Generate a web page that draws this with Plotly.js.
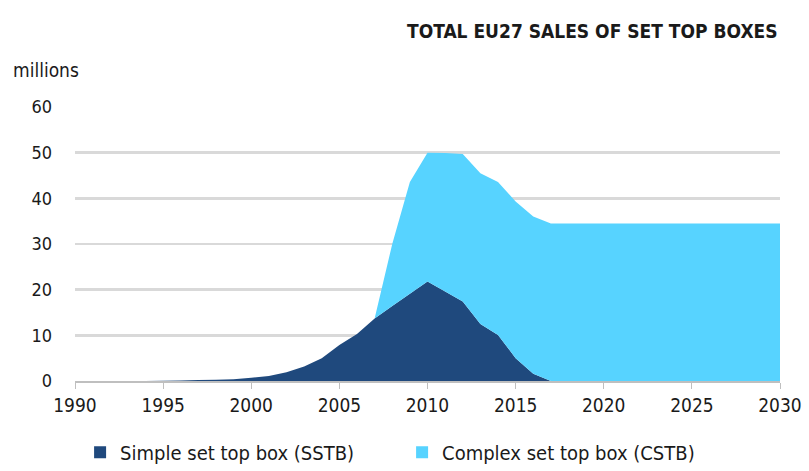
<!DOCTYPE html>
<html>
<head>
<meta charset="utf-8">
<script src="https://cdn.plot.ly/plotly-3.0.1.min.js"></script>
<style>html,body{margin:0;padding:0;background:#fff;}#chart{width:809px;height:471px;}</style>
</head>
<body>
<div id="chart"></div>
<script>
const years = [1990,1991,1992,1993,1994,1995,1996,1997,1998,1999,2000,2001,2002,2003,2004,2005,2006,2007,2008,2009,2010,2011,2012,2013,2014,2015,2016,2017,2018,2019,2020,2021,2022,2023,2024,2025,2026,2027,2028,2029,2030];
const sstb = [0,0,0,0,0,0.05,0.1,0.2,0.3,0.4,0.7,1.1,1.9,3.2,5.0,7.9,10.3,13.7,16.4,19.1,21.8,19.6,17.4,12.5,10.1,5.0,1.6,0,0,0,0,0,0,0,0,0,0,0,0,0,0];
const cstb = [0,0,0,0,0,0,0,0,0,0,0,0,0,0,0,0,0,0,13.6,24.5,28.2,30.3,32.3,33.0,33.5,34.3,34.4,34.5,34.5,34.5,34.5,34.5,34.5,34.5,34.5,34.5,34.5,34.5,34.5,34.5,34.5];
const seriesNames = ["Simple set top box (SSTB)", "Complex set top box (CSTB)"];
const seriesColors = ['#1f497d', '#57d3ff'];
const chartTitle = "TOTAL EU27 SALES OF SET TOP BOXES";
const yUnit = "millions";

const FONT = "'DejaVu Sans Condensed', 'DejaVu Sans', sans-serif";
const traces = [
  {x: years, y: sstb, name: seriesNames[0], type: 'scatter', mode: 'none', stackgroup: 'one', fill: 'tonexty', fillcolor: seriesColors[0], showlegend: false},
  {x: years, y: cstb, name: seriesNames[1], type: 'scatter', mode: 'none', stackgroup: 'one', fill: 'tonexty', fillcolor: seriesColors[1], showlegend: false},
  {x: [null], y: [null], name: seriesNames[0], type: 'bar', marker: {color: seriesColors[0]}, showlegend: true},
  {x: [null], y: [null], name: seriesNames[1], type: 'bar', marker: {color: seriesColors[1]}, showlegend: true}
];
const layout = {
  width: 809, height: 471,
  margin: {l: 75, r: 29, t: 107, b: 90},
  paper_bgcolor: '#fff', plot_bgcolor: '#fff',
  showlegend: true,
  legend: {orientation: 'h', xref: 'container', yref: 'container', x: 0.099, xanchor: 'left', y: 0.04, yanchor: 'middle', font: {family: FONT, size: 20, color: '#1a1a1a'}, traceorder: 'normal', itemwidth: 30, entrywidth: 277, tracegroupgap: 0},
  xaxis: {range: [1990, 2030], tickvals: [1990,1995,2000,2005,2010,2015,2020,2025,2030], ticks: 'outside', ticklen: 6, tickcolor: '#bfbfbf', showline: true, linecolor: '#bfbfbf', linewidth: 2, showgrid: false, zeroline: false, tickfont: {family: FONT, size: 19, color: '#1a1a1a'}},
  yaxis: {range: [0, 60], dtick: 10, showgrid: true, gridcolor: '#d9d9d9', gridwidth: 2.5, zeroline: false, showline: false, ticks: '', ticklabelstandoff: 22, tickfont: {family: FONT, size: 18, color: '#1a1a1a'}},
  annotations: [
    {text: '<b>' + chartTitle + '</b>', xref: 'paper', yref: 'paper', x: 1, y: 1, xanchor: 'right', yanchor: 'bottom', xshift: 0, yshift: 63, showarrow: false, font: {family: FONT, size: 19, color: '#1a1a1a'}},
    {text: yUnit, xref: 'paper', yref: 'paper', x: 0, y: 1, xanchor: 'left', yanchor: 'bottom', xshift: -64, yshift: 24, showarrow: false, font: {family: FONT, size: 19, color: '#1a1a1a'}}
  ]
};
Plotly.newPlot('chart', traces, layout, {displayModeBar: false, staticPlot: true});
</script>
</body>
</html>
